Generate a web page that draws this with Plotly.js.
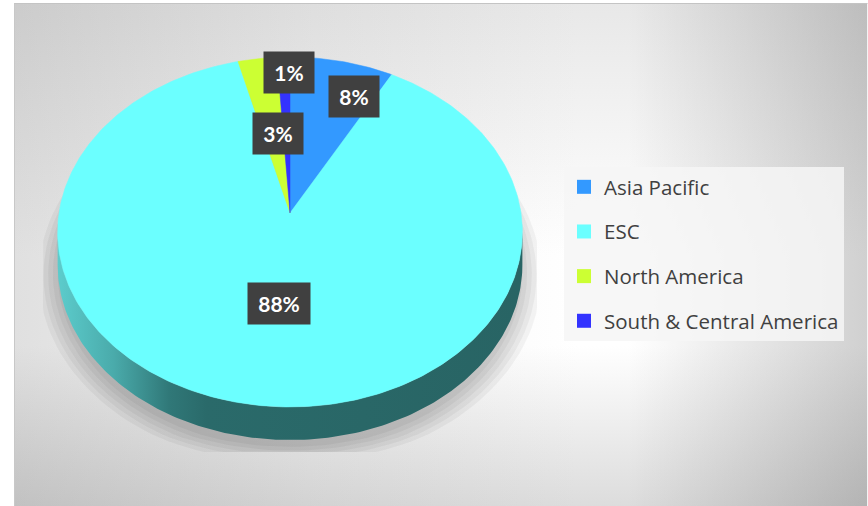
<!DOCTYPE html>
<html>
<head>
<meta charset="utf-8">
<script src="https://cdn.plot.ly/plotly-3.0.1.min.js"></script>
<style>
  html, body { margin:0; padding:0; background:#ffffff; }
  #wrap { position:relative; width:868px; height:506px; overflow:hidden; }
  #bg { position:absolute; left:14px; top:3px; width:852px; height:503px;
        border-top:1px solid #c4c4c4; border-left:1px solid #c8c8c8; border-right:1px solid #f4f4f4;
        background:
          linear-gradient(to right, #e0e0e0 0%, #f4f4f4 35%, #ffffff 66%, #ffffff 72%, #d0d0d0 100%),
          linear-gradient(to bottom, #e8e8e8 0%, #ffffff 50%, #ffffff 68%, #dcdcdc 100%);
        background-blend-mode: multiply; }
  #chart { position:absolute; left:0; top:0; width:868px; height:506px; }
</style>
</head>
<body>
<div id="wrap"><div id="bg"></div><div id="chart"></div></div>
<script>
// ---- data ----
const categories = ['Asia Pacific', 'ESC', 'North America', 'South & Central America'];
const values = [8, 88, 3, 1];
const percentLabels = ['8%', '88%', '3%', '1%'];
const sliceColors = ['#3399ff', '#6bffff', '#ccff33', '#3333ff'];

// ---- geometry / style (not data) ----
const geo = { cx: 290, cy: 213, A: 231, B: 172.9, p: 0.1086, depth: 33 };
const labelStyle = {
  f: 0.75,
  xshift: [24, 13, 13, 4],
  yshift: [0, 49, -39, 21],
  width: [46, 58, 46, 46]
};

function proj(theta, f, dy) {
  const u = f * Math.sin(theta), v = -f * Math.cos(theta);
  const d = 1 - geo.p * v;
  return [geo.cx + geo.A * u / d, geo.cy + geo.B * v / d + (dy || 0)];
}

const total = values.reduce((a, b) => a + b, 0);
const traces = [];

// soft shadow under the pie
const shadowLayers = [1.08, 1.06, 1.04, 1.02, 1.0];
shadowLayers.forEach(s => {
  const xs = [], ys = [];
  for (let i = 0; i <= 180; i++) {
    const t = i / 180 * 2 * Math.PI;
    const u = s * Math.sin(t), v = -s * Math.cos(t);
    const d = 1 - geo.p * Math.max(-0.95, Math.min(0.95, v));
    let x = geo.cx + geo.A * u / d;
    let y = geo.cy + geo.B * v / d + geo.depth + 8;
    x = Math.max(43, Math.min(537, x));
    y = Math.min(452, y);
    xs.push(x); ys.push(y);
  }
  traces.push({ type: 'scatter', x: xs, y: ys, mode: 'lines', fill: 'toself',
    fillcolor: 'rgba(0,0,0,0.045)', line: { width: 0 }, hoverinfo: 'skip', showlegend: false });
});

// 3D side wall (only ESC faces the viewer there)
(function () {
  const t0 = Math.acos(-geo.p), t1 = 2 * Math.PI - t0;
  const xs = [], ys = [];
  const n = 160;
  for (let i = 0; i <= n; i++) { const [x, y] = proj(t0 + (t1 - t0) * i / n, 1, 0); xs.push(x); ys.push(y); }
  for (let i = n; i >= 0; i--) { const [x, y] = proj(t0 + (t1 - t0) * i / n, 1, geo.depth); xs.push(x); ys.push(y); }
  traces.push({ type: 'scatter', x: xs, y: ys, mode: 'lines', fill: 'toself',
    line: { width: 0 }, fillcolor: '#2a6868',
    fillgradient: { type: 'horizontal',
      colorscale: [[0, '#5ccccc'], [0.12, '#4aabab'], [0.24, '#307878'], [0.32, '#2a6a6a'], [1, '#286464']] },
    hoverinfo: 'skip', showlegend: false });
})();

// slices on the top face
let acc = 0;
const mids = [];
values.forEach((v, k) => {
  const a0 = acc / total * 2 * Math.PI;
  acc += v;
  const a1 = acc / total * 2 * Math.PI;
  mids.push((a0 + a1) / 2);
  const xs = [geo.cx], ys = [geo.cy];
  const n = Math.max(4, Math.round(v * 4));
  for (let i = 0; i <= n; i++) { const [x, y] = proj(a0 + (a1 - a0) * i / n, 1, 0); xs.push(x); ys.push(y); }
  xs.push(geo.cx); ys.push(geo.cy);
  traces.push({ type: 'scatter', x: xs, y: ys, mode: 'lines', fill: 'toself',
    fillcolor: sliceColors[k], line: { width: 0.5, color: sliceColors[k] },
    hoverinfo: 'skip', showlegend: false, name: categories[k] });
});

// legend entries
categories.forEach((c, k) => {
  traces.push({ type: 'scatter', x: [null], y: [null], mode: 'markers', name: c,
    legendgroup: c, marker: { symbol: 'square', size: 14, color: sliceColors[k] }, showlegend: true });
});

// data labels
const annotations = percentLabels.map((t, k) => {
  const [x, y] = proj(mids[k], labelStyle.f, 0);
  return { x: x, y: y, xref: 'x', yref: 'y', text: '<b>' + t + '</b>', showarrow: false,
    xshift: labelStyle.xshift[k], yshift: labelStyle.yshift[k],
    width: labelStyle.width[k], height: 37, borderpad: 2,
    bgcolor: '#404040', font: { family: 'Lato, Open Sans, sans-serif', size: 21, color: '#ffffff' } };
});

const layout = {
  width: 868, height: 506,
  margin: { l: 0, r: 0, t: 0, b: 0 },
  paper_bgcolor: 'rgba(0,0,0,0)', plot_bgcolor: 'rgba(0,0,0,0)',
  xaxis: { range: [0, 868], visible: false, fixedrange: true },
  yaxis: { range: [506, 0], visible: false, fixedrange: true },
  showlegend: true,
  legend: { x: 564 / 868, y: 1 - 167 / 506, xanchor: 'left', yanchor: 'top',
    bgcolor: 'rgba(246,246,246,0.85)', traceorder: 'grouped', tracegroupgap: 15,
    font: { family: 'Open Sans, sans-serif', size: 20.5, color: '#404040' },
    itemclick: false, itemdoubleclick: false },
  annotations: annotations,
  hovermode: false
};

Plotly.newPlot('chart', traces, layout, { displayModeBar: false, staticPlot: true });
</script>
</body>
</html>
